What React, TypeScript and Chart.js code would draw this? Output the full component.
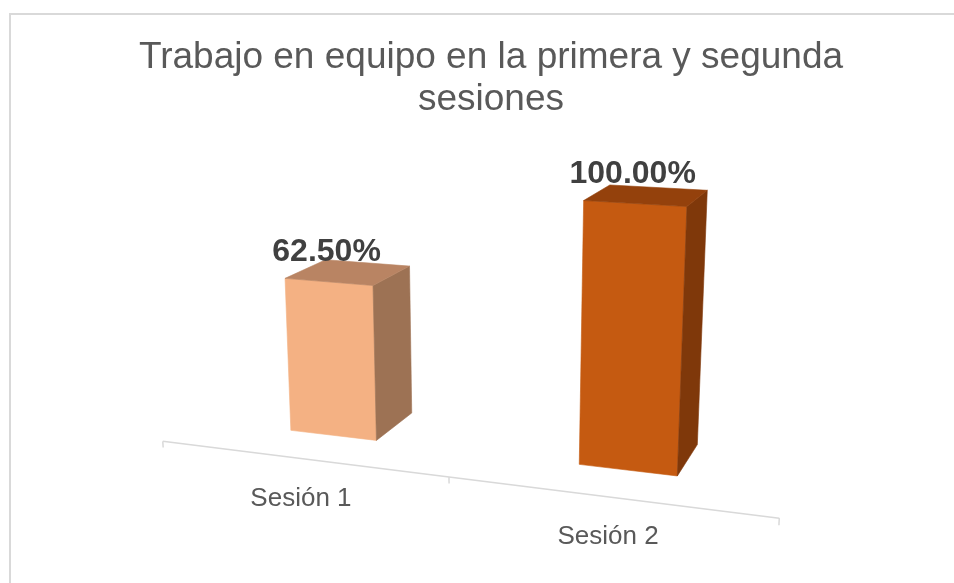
import React, { useEffect, useRef } from 'react';
import { Chart, registerables } from 'chart.js';

Chart.register(...registerables);

// ---------- data ----------
const categories = ['Sesión 1', 'Sesión 2'];
const values = [0.625, 1.0];
const valueLabels = ['62.50%', '100.00%'];
const titleLines = ['Trabajo en equipo en la primera y segunda', 'sesiones'];
const frontColors = ['#F4B183', '#C55A11'];
const topColors = ['#B98463', '#94410C'];
const sideColors = ['#9D7254', '#7F380A'];
const axisMin = 0;
const axisMax = 1.2;

// ---------- styling / layout ----------
const FONT = "'Liberation Sans', Arial, Helvetica, sans-serif";
const TEXT_GREY = '#595959';
const LABEL_DARK = '#404040';
const LINE_GREY = '#D9D9D9';

// 3D view (Excel-like rotation + perspective)
const ROT_Y = (19.2 * Math.PI) / 180;
const ROT_X = (15.2 * Math.PI) / 180;
const DIST = 1456;
const CENTER_X = 492;
const CENTER_Y = 338;
const ORIGIN_X = 449; // screen point of floor-front centre
const ORIGIN_Y = 477;
const FLOOR_HALF = 328; // half-length of the floor in 3D units
const BAR_Z0 = 78;
const BAR_DEPTH = 100;
const TICK_LEN = 7;

function project(X: number, Y: number, Z: number): [number, number] {
  const cT = Math.cos(ROT_Y), sT = Math.sin(ROT_Y);
  const cP = Math.cos(ROT_X), sP = Math.sin(ROT_X);
  const X1 = X * cT + Z * sT;
  const Z1 = -X * sT + Z * cT;
  const Y2 = Y * cP + Z1 * sP;
  const Z2 = Z1 * cP - Y * sP;
  const s = DIST / (DIST + Z2);
  const TX = ORIGIN_X - CENTER_X;
  const TY = CENTER_Y - ORIGIN_Y;
  return [CENTER_X + (X1 + TX) * s, CENTER_Y - (Y2 + TY) * s];
}

function poly(ctx: CanvasRenderingContext2D, pts: [number, number][], color: string) {
  ctx.beginPath();
  pts.forEach((p, i) => (i === 0 ? ctx.moveTo(p[0], p[1]) : ctx.lineTo(p[0], p[1])));
  ctx.closePath();
  ctx.fillStyle = color;
  ctx.fill();
  ctx.strokeStyle = color;
  ctx.lineWidth = 0.6;
  ctx.stroke();
}

const bar3dPlugin = {
  id: 'bar3d',
  beforeDraw(chart: any) {
    const ctx: CanvasRenderingContext2D = chart.ctx;
    ctx.save();
    ctx.fillStyle = '#FFFFFF';
    ctx.fillRect(0, 0, chart.width, chart.height);
    ctx.strokeStyle = LINE_GREY;
    ctx.lineWidth = 2;
    ctx.strokeRect(10, 14, chart.width + 20, chart.height + 20);
    ctx.restore();
  },
  afterDatasetsDraw(chart: any) {
    const ctx: CanvasRenderingContext2D = chart.ctx;
    const xs = chart.scales.x;
    const ys = chart.scales.y;
    const midX = (xs.left + xs.right) / 2;
    const half = (xs.right - xs.left) / 2;
    const k = FLOOR_HALF / half; // pixel -> 3D units along the category axis
    const base = ys.getPixelForValue(axisMin);
    const n = chart.data.labels.length;
    const wx = (px: number) => (px - midX) * k;

    ctx.save();
    // floor front line + ticks
    ctx.strokeStyle = LINE_GREY;
    ctx.lineWidth = 1.5;
    const a = project(wx(xs.left), 0, 0);
    const b = project(wx(xs.right), 0, 0);
    ctx.beginPath();
    ctx.moveTo(a[0], a[1]);
    ctx.lineTo(b[0], b[1]);
    ctx.stroke();
    for (let i = 0; i <= n; i++) {
      const X = wx(xs.left + (i * (xs.right - xs.left)) / n);
      const p = project(X, 0, 0);
      const q = project(X, -TICK_LEN, 0);
      ctx.beginPath();
      ctx.moveTo(p[0], p[1]);
      ctx.lineTo(q[0], q[1]);
      ctx.stroke();
    }

    // category labels
    ctx.fillStyle = TEXT_GREY;
    ctx.font = `26px ${FONT}`;
    ctx.textAlign = 'center';
    ctx.textBaseline = 'alphabetic';
    chart.data.labels.forEach((lab: string, i: number) => {
      const p = project(wx(xs.getPixelForValue(i)), 0, 0);
      ctx.fillText(lab, p[0], p[1] + 47);
    });

    // 3D bars
    const meta = chart.getDatasetMeta(0);
    meta.data.forEach((el: any, i: number) => {
      const { x, y, width } = el.getProps(['x', 'y', 'width'], true);
      const x0 = wx(x - width / 2);
      const x1 = wx(x + width / 2);
      const h = base - y;
      const z0 = BAR_Z0;
      const z1 = BAR_Z0 + BAR_DEPTH;
      poly(ctx, [project(x0, 0, z0), project(x1, 0, z0), project(x1, h, z0), project(x0, h, z0)], frontColors[i]);
      poly(ctx, [project(x1, 0, z0), project(x1, 0, z1), project(x1, h, z1), project(x1, h, z0)], sideColors[i]);
      poly(ctx, [project(x0, h, z0), project(x1, h, z0), project(x1, h, z1), project(x0, h, z1)], topColors[i]);

      const t = project((x0 + x1) / 2, h, z0);
      ctx.fillStyle = LABEL_DARK;
      ctx.font = `bold 32px ${FONT}`;
      ctx.textAlign = 'center';
      ctx.textBaseline = 'alphabetic';
      ctx.fillText(valueLabels[i], t[0] - 2, t[1] - 21);
    });
    ctx.restore();
  },
};

export default function App() {
  const ref = useRef<HTMLCanvasElement>(null);

  useEffect(() => {
    document.body.style.margin = '0';
    const canvas = ref.current;
    if (!canvas) return;
    const chart = new Chart(canvas, {
      type: 'bar',
      data: {
        labels: categories,
        datasets: [
          {
            data: values,
            backgroundColor: 'rgba(0,0,0,0)',
            borderWidth: 0,
            categoryPercentage: 1,
            barPercentage: 0.311,
          },
        ],
      },
      options: {
        responsive: false,
        animation: false,
        devicePixelRatio: 1,
        layout: { padding: { left: 124, right: 96, top: 0, bottom: 117 } },
        scales: {
          x: { type: 'category', display: false, offset: true, grid: { display: false } },
          y: { type: 'linear', display: false, min: axisMin, max: axisMax },
        },
        plugins: {
          legend: { display: false },
          tooltip: { enabled: false },
          title: {
            display: true,
            text: titleLines,
            color: TEXT_GREY,
            font: { family: FONT, size: 37, weight: 'normal', lineHeight: 1.154 },
            padding: { top: 36, bottom: 17 },
          },
        },
      },
      plugins: [bar3dPlugin],
    });
    return () => chart.destroy();
  }, []);

  return (
    <div style={{ width: 954, height: 583, overflow: 'hidden' }}>
      <canvas ref={ref} width={954} height={583} style={{ display: 'block' }} />
    </div>
  );
}
